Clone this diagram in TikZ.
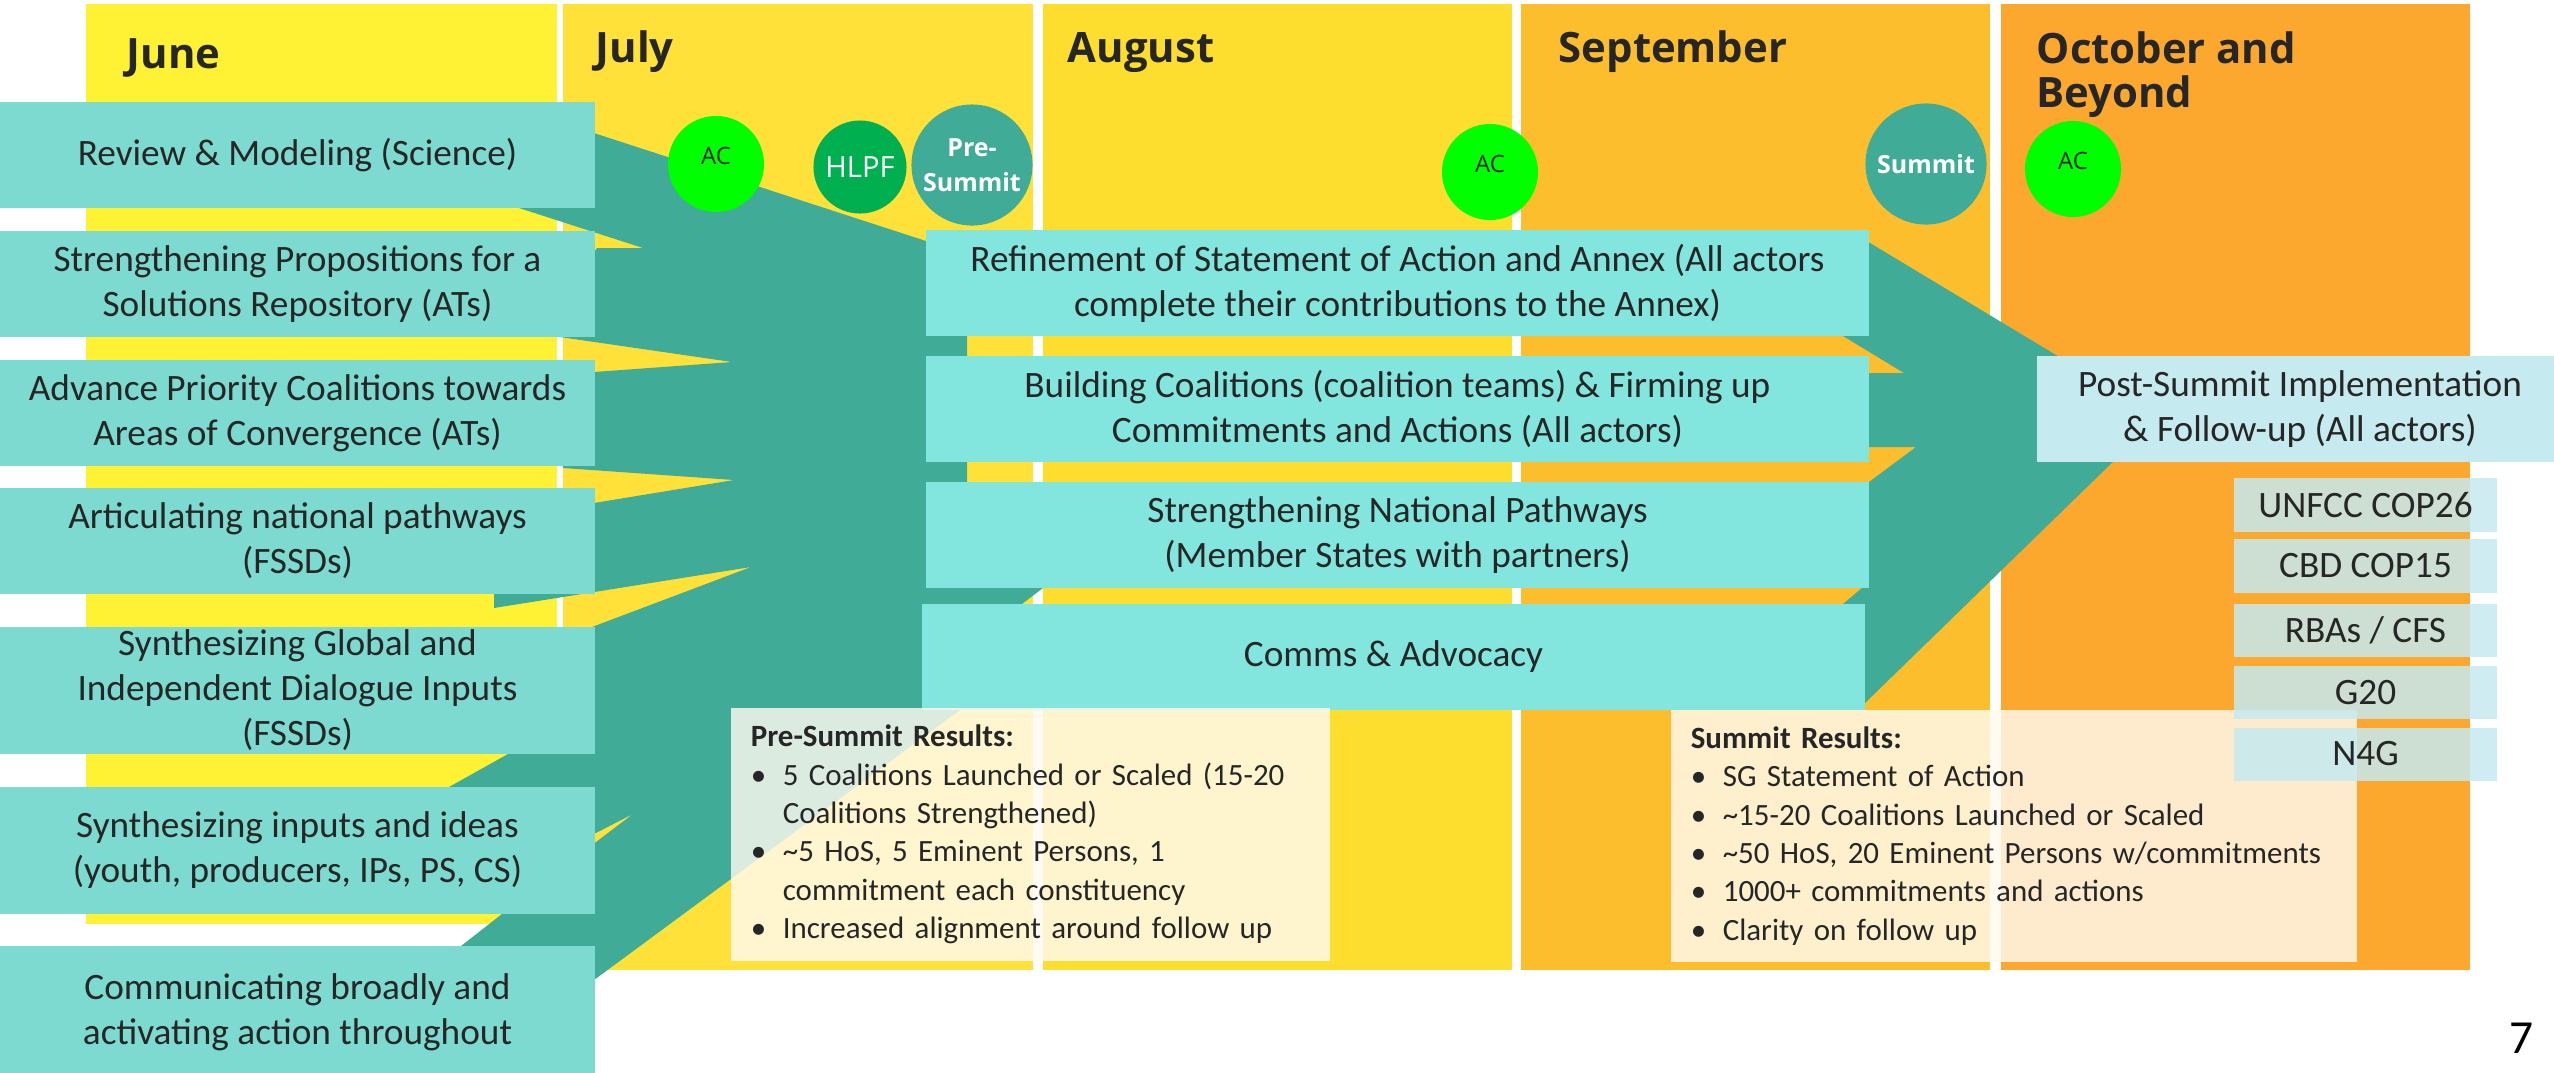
\documentclass[tikz,border=0pt]{standalone}
\usepackage{fontspec}
\setmainfont{Carlito}
\newfontfamily\headfont{Open Sans}
\usetikzlibrary{positioning}

\definecolor{junecol}{HTML}{FFF133}
\definecolor{julycol}{HTML}{FFE13A}
\definecolor{augcol}{HTML}{FDDE2E}
\definecolor{sepcol}{HTML}{FDBE2E}
\definecolor{octcol}{HTML}{FCA82F}
\definecolor{arrowteal}{HTML}{40AB96}
\definecolor{lboxcol}{HTML}{7DDAD0}
\definecolor{mboxcol}{HTML}{82E6DF}
\definecolor{postcol}{HTML}{C5EAF0}
\definecolor{smallcol}{HTML}{C5E9EF}
\definecolor{creamcol}{HTML}{FFFAF0}
\definecolor{acgreen}{HTML}{00FF00}
\definecolor{hlpfgreen}{HTML}{00AF50}
\definecolor{textgray}{HTML}{262626}

\newcommand{\resitem}{\makebox[0.32cm][l]{\textbullet}}

\begin{document}
\begin{tikzpicture}[
    x=0.01cm, y=-0.01cm,
    month/.style={anchor=base west, inner sep=0, align=left, text=textgray, font=\headfont\bfseries\fontsize{11.9pt}{12.5pt}\selectfont},
    lbox/.style={rectangle, fill=lboxcol, inner sep=0, minimum width=5.95cm, minimum height=1.06cm, align=center, text=textgray, font=\fontsize{10.6pt}{12.8pt}\selectfont},
    mbox/.style={lbox, fill=mboxcol, minimum width=9.43cm},
    postbox/.style={lbox, fill=postcol, minimum width=5.26cm},
    eventbox/.style={lbox, fill=smallcol, fill opacity=0.85, text opacity=1, minimum width=2.63cm, minimum height=0.53cm},
    resbox/.style={rectangle, fill=creamcol, fill opacity=0.82, text opacity=1, inner xsep=0.2cm, inner ysep=0, minimum height=2.52cm, align=left, text=textgray, font=\fontsize{8.8pt}{10.9pt}\selectfont},
    accirc/.style={circle, fill=acgreen, minimum size=0.96cm, inner sep=0},
    aclabel/.style={yshift=0.08cm, text=textgray, font=\headfont\fontsize{6.8pt}{8pt}\selectfont},
    meetcirc/.style={circle, fill=arrowteal, minimum size=1.21cm, inner sep=0, align=center, text=white, font=\headfont\bfseries\fontsize{7.1pt}{10pt}\selectfont},
    funnel/.style={fill=arrowteal}
]
\useasboundingbox (0,0) rectangle (2554,1072);

% Month columns
\fill[junecol] (86,4) rectangle (557,924);
\fill[julycol] (563,4) rectangle (1033,970);
\fill[augcol] (1043,4) rectangle (1512,970);
\fill[sepcol] (1521,4) rectangle (1990,970);
\fill[octcol] (2001,4) rectangle (2470,970);

\node[month] (june) at (126,68) {June};
\node[month] (july) at (595,62) {July};
\node[month] (august) at (1067,62) {August};
\node[month] (september) at (1558,62) {September};
\node[month, anchor=north west] (october) at (2036,31) {October and\\Beyond};

% Funnel into the middle
\fill[funnel] (560,122) -- (926,241) -- (960,252) -- (967,262) -- (967,588)
    -- (1043,588) -- (1022,604) -- (950,660) -- (960,710) -- (594,980)
    -- (560,1005) -- (461,946) -- (502,914) -- (580,850) -- (592,845)
    -- (633,814) -- (592,835) -- (560,800) -- (449,787) -- (508,754)
    -- (560,700) -- (592,627) -- (751,567) -- (494,608) -- (494,594)
    -- (560,560) -- (594,503) -- (734,480) -- (563,468) -- (560,440)
    -- (594,372) -- (732,362) -- (560,337) -- (560,300) -- (597,248)
    -- (643,248) -- (519,208) -- (540,150) -- cycle;

% Arrow to post-summit
\fill[funnel] (1860,237) -- (2159,417) -- (1865,703) -- (1840,703)
    -- (1840,610) -- (1843,604) -- (1869,582) -- (1869,482) -- (1916,447)
    -- (1869,447) -- (1869,373) -- (1904,373) -- (1843,336) -- (1843,300) -- cycle;

% Milestones
\node[accirc, label={[aclabel]center:AC}] (ac1) at (716,164) {};
\node[meetcirc, fill=hlpfgreen, minimum size=0.93cm, font=\headfont\fontsize{8.3pt}{10pt}\selectfont] (hlpf) at (860,167) {HLPF};
\node[meetcirc] (presummit) at (972,165) {Pre-\\Summit};
\node[accirc, label={[aclabel]center:AC}] (ac2) at (1490,172) {};
\node[meetcirc] (summit) at (1926,164) {Summit};
\node[accirc, label={[aclabel]center:AC}] (ac3) at (2073,169) {};

% Workstreams
\node[lbox] (review) at (297.5,155) {Review \& Modeling (Science)};
\node[lbox] (propositions) at (297.5,284) {Strengthening Propositions for a\\Solutions Repository (ATs)};
\node[lbox] (coalitions) at (297.5,413) {Advance Priority Coalitions towards\\Areas of Convergence (ATs)};
\node[lbox] (pathways) at (297.5,541) {Articulating national pathways\\(FSSDs)};
\node[lbox, minimum height=1.27cm] (dialogues) at (297.5,690.5) {Synthesizing Global and\\Independent Dialogue Inputs\\(FSSDs)};
\node[lbox, minimum height=1.27cm] (inputs) at (297.5,850.5) {Synthesizing inputs and ideas\\(youth, producers, IPs, PS, CS)};
\node[lbox, minimum height=1.32cm] (comms) at (297.5,1012) {Communicating broadly and\\activating action throughout};

% Middle
\node[mbox] (refinement) at (1397.5,283) {Refinement of Statement of Action and Annex (All actors\\complete their contributions to the Annex)};
\node[mbox] (building) at (1397.5,409) {Building Coalitions (coalition teams) \& Firming up\\Commitments and Actions (All actors)};
\node[mbox] (national) at (1397.5,535) {Strengthening National Pathways\\(Member States with partners)};
\node[mbox] (advocacy) at (1393.5,657) {Comms \& Advocacy};

% Post-summit
\node[postbox] (post) at (2300,409) {Post-Summit Implementation\\\& Follow-up (All actors)};

% Results
\node[resbox, text width=5.59cm] (preres) at (1030.5,834.5) {\textbf{Pre-Summit Results:}\\
\resitem 5 Coalitions Launched or Scaled (15-20\\
\hspace*{0.32cm}Coalitions Strengthened)\\
\resitem \textasciitilde5 HoS, 5 Eminent Persons, 1\\
\hspace*{0.32cm}commitment each constituency\\
\resitem Increased alignment around follow up};
\node[resbox, text width=6.46cm] (sumres) at (2014,836) {\textbf{Summit Results:}\\
\resitem SG Statement of Action\\
\resitem \textasciitilde15-20 Coalitions Launched or Scaled\\
\resitem \textasciitilde50 HoS, 20 Eminent Persons w/commitments\\
\resitem 1000+ commitments and actions\\
\resitem Clarity on follow up};

% Events
\node[eventbox] (cop26) at (2365.5,505) {UNFCC COP26};
\node[eventbox] (cop15) at (2365.5,566) {CBD COP15};
\node[eventbox] (cfs) at (2365.5,630.5) {RBAs / CFS};
\node[eventbox] (gtwenty) at (2365.5,692.5) {G20};
\node[eventbox] (nfourg) at (2365.5,754) {N4G};

\node[font=\fontsize{13.5pt}{14pt}\selectfont, text=black] (pagenum) at (2522,1038) {7};
\end{tikzpicture}
\end{document}
